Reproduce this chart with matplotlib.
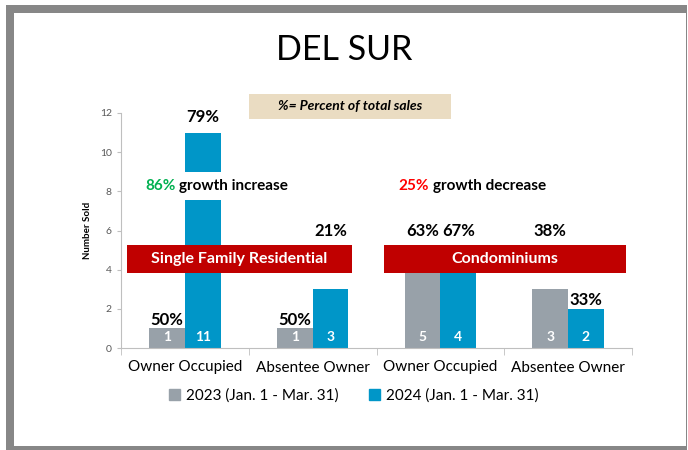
import numpy as np
import matplotlib
matplotlib.use("Agg")
import matplotlib.pyplot as plt
from matplotlib.patches import Rectangle, Patch

plt.rcParams['font.family'] = ['Lato', 'DejaVu Sans']

categories = ["Owner Occupied", "Absentee Owner", "Owner Occupied", "Absentee Owner"]
series_names = ["2023 (Jan. 1 - Mar. 31)", "2024 (Jan. 1 - Mar. 31)"]
sold_2023 = [1, 1, 5, 3]
sold_2024 = [11, 3, 4, 2]
pct_2023 = ["50%", "50%", "63%", "38%"]
pct_2024 = ["79%", "21%", "67%", "33%"]
groups = ["Single Family Residential", "Condominiums"]
growth_pct = ["86%", "25%"]
growth_text = ["growth increase", "growth decrease"]

GRAY = "#98A1A9"
BLUE = "#0096C8"
RED = "#C00000"
W, H = 688, 450


def fx(x):
    return x / W


def fy(y):
    return 1 - y / H


fig = plt.figure(figsize=(6.88, 4.5), dpi=100)

# slide frame
fig.patches.append(Rectangle((fx(6), fy(450)), fx(681), 445 / H, transform=fig.transFigure,
                             facecolor="#878787", edgecolor="none", zorder=-10))
fig.patches.append(Rectangle((fx(14), fy(446)), fx(672), 433 / H, transform=fig.transFigure,
                             facecolor="white", edgecolor="none", zorder=-9))

fig.text(0.5, fy(50), "DEL SUR", ha="center", va="center", fontsize=24.5)

# caption box
fig.patches.append(Rectangle((fx(249), fy(119)), fx(202), 25 / H, transform=fig.transFigure,
                             facecolor="#EADCC2", edgecolor="none", zorder=1))
fig.text(fx(350), fy(106), "%= Percent of total sales", ha="center", va="center",
         fontsize=10, fontstyle="italic", fontweight="bold", zorder=2)

ax = fig.add_axes([fx(121), fy(348), fx(632) - fx(121), fy(113) - fy(348)])
x = np.arange(len(categories))
bw = 0.28
b1 = ax.bar(x - bw / 2, sold_2023, bw, color=GRAY, label=series_names[0])
b2 = ax.bar(x + bw / 2, sold_2024, bw, color=BLUE, label=series_names[1])

ax.set_xlim(-0.5, len(categories) - 0.5)
ax.set_ylim(0, 12)
ax.set_yticks(range(0, 13, 2))
ax.tick_params(axis="y", labelsize=7.5, colors="#595959", length=3, color="#BFBFBF")
ax.set_xticks(x)
ax.set_xticklabels(categories, fontsize=11)
ax.tick_params(axis="x", length=0, pad=9)
ax.set_xticks(np.arange(-0.5, len(categories)), minor=True)
ax.tick_params(axis="x", which="minor", length=5, color="#BFBFBF")
for s in ["top", "right"]:
    ax.spines[s].set_visible(False)
for s in ["left", "bottom"]:
    ax.spines[s].set_color("#BFBFBF")
ax.set_ylabel("Number Sold", fontsize=7, fontweight="bold", labelpad=6)

# values inside bars
for bars, vals in [(b1, sold_2023), (b2, sold_2024)]:
    for r, v in zip(bars, vals):
        ax.text(r.get_x() + r.get_width() / 2, 0.55, str(v), ha="center", va="center",
                color="white", fontsize=10, fontweight="bold")

# percent labels
pct_y_2023 = [1.45, 1.45, 5.95, 5.95]
pct_y_2024 = [11.8, 5.95, 5.95, 2.45]
for i in range(len(categories)):
    ax.text(x[i] - bw / 2, pct_y_2023[i], pct_2023[i], ha="center", va="center",
            fontsize=12, fontweight="bold")
    ax.text(x[i] + bw / 2, pct_y_2024[i], pct_2024[i], ha="center", va="center",
            fontsize=12, fontweight="bold")

# group banners
banners = [(127, 352), (384, 626)]
for (x0, x1), name in zip(banners, groups):
    fig.patches.append(Rectangle((fx(x0), fy(273)), fx(x1 - x0), 28 / H, transform=fig.transFigure,
                                 facecolor=RED, edgecolor="none", zorder=5))
    fig.text(fx((x0 + x1) / 2), fy(259), name, ha="center", va="center", color="white",
             fontsize=11.5, fontweight="bold", zorder=6)

# growth notes
fig.patches.append(Rectangle((fx(140), fy(200)), fx(152), 28 / H, transform=fig.transFigure,
                             facecolor="white", edgecolor="none", zorder=4))
notes = [(145, "#00B050"), (398, "#FF0000")]
for (x0, c), p, t in zip(notes, growth_pct, growth_text):
    tp = fig.text(fx(x0), fy(186), p, ha="left", va="center", color=c,
                  fontsize=11, fontweight="bold", zorder=6)
    fig.canvas.draw()
    bb = tp.get_window_extent()
    fig.text(bb.x1 / W + fx(4), fy(186), t, ha="left", va="center", color="black",
             fontsize=11, fontweight="bold", zorder=6)

handles = [Patch(color=GRAY), Patch(color=BLUE)]
fig.legend(handles, series_names, loc="center", bbox_to_anchor=(fx(354), fy(396)), ncol=2,
           frameon=False, fontsize=11, handlelength=0.7, handleheight=0.7,
           handletextpad=0.4, columnspacing=2.0)

fig.savefig("out.png", dpi=100)
